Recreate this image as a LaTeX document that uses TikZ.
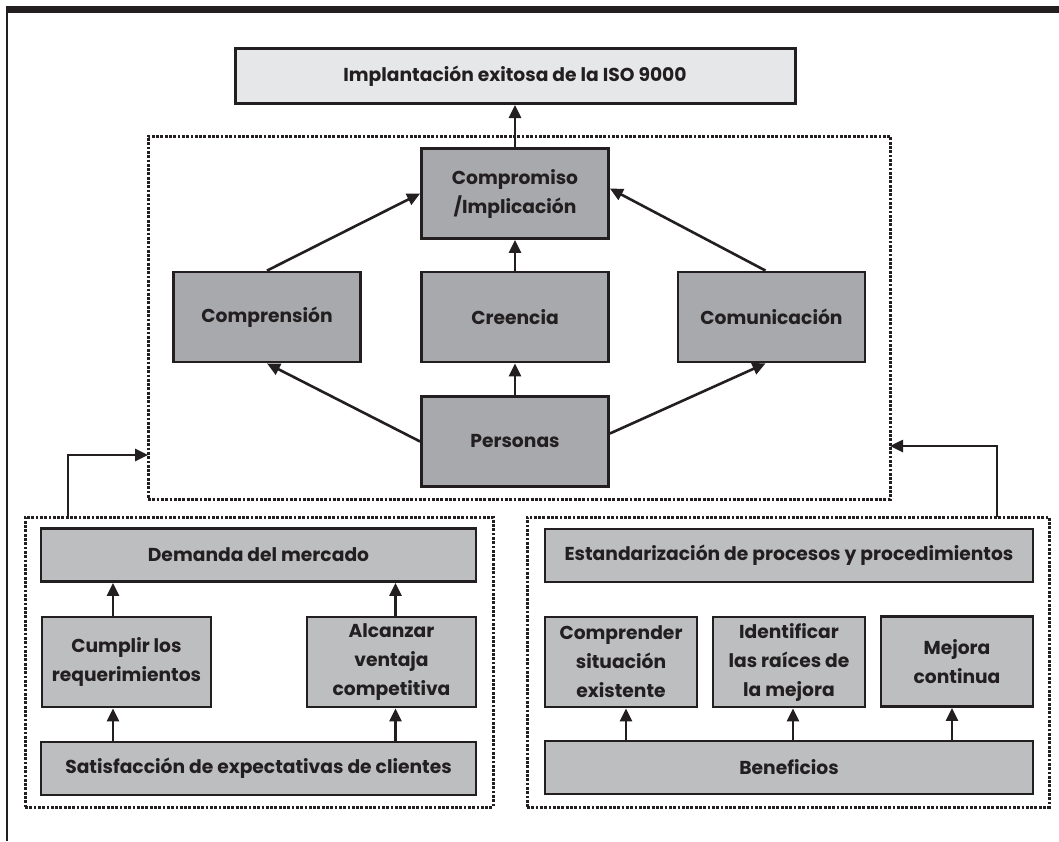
\documentclass[tikz,border=0pt]{standalone}
\usepackage{fontspec}
\setmainfont{Poppins}
\usetikzlibrary{arrows.meta}
\definecolor{ink}{HTML}{231F20}
\definecolor{pale}{HTML}{E6E7E8}
\definecolor{dark}{HTML}{A7A9AC}
\definecolor{light}{HTML}{BCBEC0}
\tikzset{
  box/.style={rectangle, draw=ink, line width=2.8pt, text=ink, align=center,
    font=\fontsize{18.7}{29}\selectfont\bfseries, inner sep=0pt},
  goal/.style={box, fill=pale, line width=3pt, minimum width=560pt, minimum height=55pt},
  core/.style={box, fill=dark, minimum width=187pt, minimum height=90pt},
  wide/.style={box, fill=light, minimum height=53pt},
  small/.style={box, fill=light, minimum height=90pt},
  group/.style={rectangle, draw=ink, line width=3pt, dash pattern=on 2.8pt off 1.5pt, inner sep=0pt},
  arr/.style={-{Triangle[length=13pt, width=12pt]}, draw=ink, line width=2.6pt},
}
\begin{document}
\begin{tikzpicture}[x=1pt, y=-1pt]
  \useasboundingbox (0,0) rectangle (1059,841);
  \fill[ink] (6,6) rectangle (1059,13);
  \draw[ink, line width=1.4pt] (7,6) -- (7,841);

  \node[group, minimum width=742pt, minimum height=363pt] (grpA) at (519,317.5) {};
  \node[group, minimum width=468pt, minimum height=290pt] (grpL) at (259,662) {};
  \node[group, minimum width=522pt, minimum height=290pt] (grpR) at (788,662) {};

  \node[goal] (top) at (515,76) {Implantación exitosa de la ISO 9000};
  \node[core] (cmp) at (515,193.5) {Compromiso\\/Implicación};
  \node[core] (compr) at (267,317) {Comprensión};
  \node[core] (cree) at (515,317) {Creencia};
  \node[core] (comu) at (771.5,317) {Comunicación};
  \node[core] (pers) at (515,441.5) {Personas};

  \node[wide, minimum width=435pt] (dem) at (258.5,555) {Demanda del mercado};
  \node[small, minimum width=169pt] (cump) at (126.5,662) {Cumplir los\\requerimientos};
  \node[small, minimum width=169pt] (alc) at (391.5,662) {Alcanzar\\ventaja\\competitiva};
  \node[wide, minimum width=435pt] (sat) at (258.5,768.5) {Satisfacción de expectativas de clientes};

  \node[wide, minimum width=488pt] (est) at (789,555.5) {Estandarización de procesos y procedimientos};
  \node[small, minimum width=152pt] (compre) at (621,662) {Comprender\\situación\\existente};
  \node[small, minimum width=152pt] (iden) at (789,662) {Identificar\\las raíces de\\la mejora};
  \node[small, minimum width=152pt] (mej) at (957,661.5) {Mejora\\continua};
  \node[wide, minimum width=488pt] (ben) at (789,767.5) {Beneficios};

  \draw[arr] (cmp) -- (top);
  \draw[arr] (cree) -- (cmp);
  \draw[arr] (compr.north) -- (cmp.west);
  \draw[arr] ([xshift=-6pt]comu.north) -- ([yshift=5pt]cmp.east);
  \draw[arr] (pers) -- (cree);
  \draw[arr] (pers.west) -- (compr.south);
  \draw[arr] ([yshift=8pt]pers.east) -- ([xshift=-6pt]comu.south);

  \draw[arr] ([xshift=-13.5pt]cump.north) -- ([xshift=-13.5pt]cump.north |- dem.south);
  \draw[arr] ([xshift=4pt]alc.north) -- ([xshift=4pt]alc.north |- dem.south);
  \draw[arr] ([xshift=-13.5pt]cump.south |- sat.north) -- ([xshift=-13.5pt]cump.south);
  \draw[arr] ([xshift=4pt]alc.south |- sat.north) -- ([xshift=4pt]alc.south);

  \draw[arr] ([xshift=5pt]compre.south |- ben.north) -- ([xshift=5pt]compre.south);
  \draw[arr] ([xshift=4pt]iden.south |- ben.north) -- ([xshift=4pt]iden.south);
  \draw[arr] ([xshift=-5pt]mej.south |- ben.north) -- ([xshift=-5pt]mej.south);

  \coordinate (lout) at (68,517);
  \coordinate (lin) at (148,455);
  \coordinate (rout) at (997,517);
  \coordinate (rin) at (890,446);
  \draw[arr] (lout) |- (lin);
  \draw[arr] (rout) |- (rin);
\end{tikzpicture}
\end{document}
